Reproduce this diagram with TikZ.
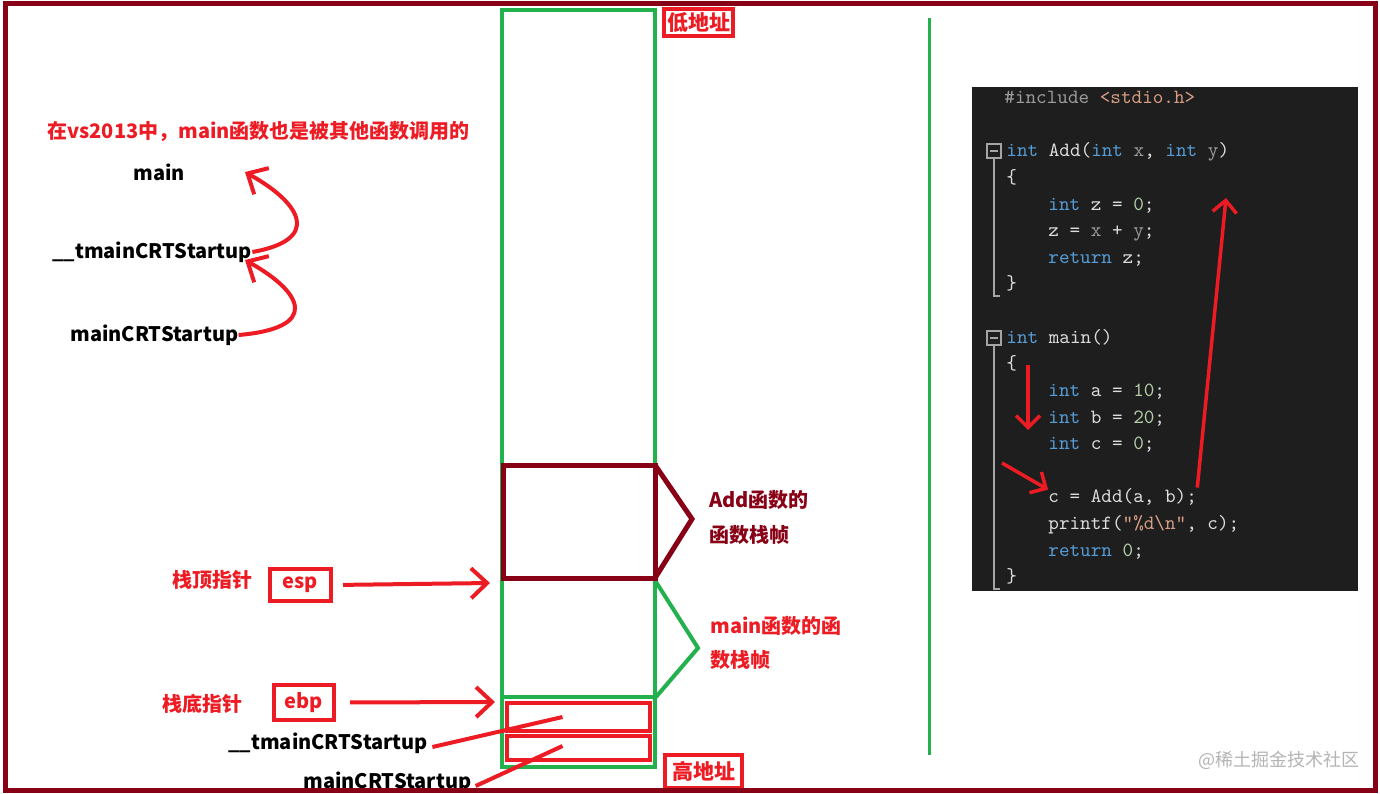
\documentclass[tikz,border=0pt]{standalone}
\usepackage{fontspec}
\newfontfamily\cjk{Noto Sans CJK SC}
\usetikzlibrary{arrows.meta,positioning}

\definecolor{paintgreen}{HTML}{22B14C}
\definecolor{paintred}{HTML}{ED1C24}
\definecolor{paintdark}{HTML}{880015}
\definecolor{codebg}{HTML}{1E1E1E}
\definecolor{kwblue}{HTML}{569CD6}
\definecolor{plaintext}{HTML}{DCDCDC}
\definecolor{numgreen}{HTML}{B5CEA8}
\definecolor{strtan}{HTML}{D69D85}
\definecolor{paramgray}{HTML}{9B9B9B}
\definecolor{foldgray}{HTML}{A5A5A5}
\definecolor{wmgray}{HTML}{B4B4B4}

\begin{document}
\begin{tikzpicture}[
  x=0.5pt, y=-0.5pt,
  lbl/.style={font=\cjk\bfseries\fontsize{10}{12}\selectfont, inner sep=0pt, anchor=west},
  regbox/.style={draw=paintred, line width=2pt, text=paintred, inner sep=0pt,
    font=\cjk\bfseries\fontsize{10}{12}\selectfont},
  addrbox/.style={regbox, font=\cjk\bfseries\fontsize{10.5}{12}\selectfont},
  slotbox/.style={draw=paintred, line width=2pt, minimum width=71.5pt, inner sep=0pt},
  stackline/.style={paintgreen, line width=2pt},
  redarrow/.style={paintred, line width=2pt, -{Straight Barb[length=8pt, width=15pt]}},
  codearrow/.style={paintred, line width=1.75pt, -{Straight Barb[length=6pt, width=12pt]}},
  redline/.style={paintred, line width=2pt},
  codeline/.style={font=\ttfamily\fontsize{10.1}{12}\selectfont, inner sep=0pt,
    anchor=base west, text=plaintext},
  fold/.style={foldgray, line width=0.75pt}
]
\useasboundingbox (0,0) rectangle (1380,793);
\fill[white] (0,0) rectangle (1380,793);

% stack
\draw[stackline] (502,10) rectangle (655,767);
\draw[stackline] (502,697) -- (655,697);
\draw[paintdark, line width=2.5pt] (503,465) rectangle (655,578);
\draw[paintdark, line width=2.5pt] (655,465) -- (692,519) -- (655,578);
\draw[stackline] (656,582) -- (698,648) -- (656,697);
\node[slotbox, minimum height=14pt] (slot1) at (578.5,717) {};
\node[slotbox, minimum height=12pt] (slot2) at (578.5,748) {};

\node[addrbox, minimum width=34.5pt, minimum height=13.5pt] (lowaddr) at (698.5,22.5) {低地址};
\node[addrbox, minimum width=38.5pt, minimum height=16.5pt] (highaddr) at (703.5,771.5) {高地址};

\node[lbl, paintdark] (addtxt1) at (709,500) {Add函数的};
\node[lbl, paintdark] (addtxt2) at (709,535) {函数栈帧};
\node[lbl, paintred] (maintxt1) at (710,626) {main函数的函};
\node[lbl, paintred] (maintxt2) at (710,660) {数栈帧};

% call chain
\node[lbl, paintred] (title) at (47,131) {在vs2013中，main函数也是被其他函数调用的};
\node[lbl, anchor=center] (fmain) at (159,172) {main};
\node[lbl] (ftmain) at (52,252) {\_\_tmainCRTStartup};
\node[lbl] (fcrt) at (70,335) {mainCRTStartup};
\coordinate (maintip) at (245,172);
\coordinate (tmaintip) at (245,260);
\draw[redarrow] (ftmain.east) .. controls (320,240) and (304,205) .. (maintip);
\draw[redarrow] (fcrt.east) .. controls (320,328) and (304,293) .. (tmaintip);

% pointers
\node[lbl, paintred] (topname) at (172,580) {栈顶指针};
\node[regbox, minimum width=30.5pt, minimum height=16pt] (esp) at (300.5,585) {esp};
\node[lbl, paintred] (basename) at (162,704) {栈底指针};
\node[regbox, minimum width=30pt, minimum height=17.5pt] (ebp) at (304,702.5) {ebp};
\coordinate (esptip) at (490,583);
\coordinate (ebptip) at (495,702);
\draw[redarrow, shorten <=5pt] (esp.east) -- (esptip);
\draw[redarrow, shorten <=7pt] (ebp.east) -- (ebptip);

\node[lbl] (ftmain2) at (228,743) {\_\_tmainCRTStartup};
\node[lbl] (fcrt2) at (303,782) {mainCRTStartup};
\draw[redline] ([xshift=2pt,yshift=-2pt]ftmain2.east) -- ([xshift=-8pt]slot1.center);
\draw[redline] ([xshift=2pt,yshift=-2pt]fcrt2.east) -- ([xshift=-8pt,yshift=1pt]slot2.center);

% divider
\draw[paintgreen, line width=1.5pt] (929,18) -- (929,755);

% code
\fill[codebg] (972,87) rectangle (1358,591);
\draw[fold] (987,144) rectangle (1001,158);
\draw[fold] (990,151) -- (998,151);
\draw[fold] (994,158) -- (994,296) -- (1000,296);
\draw[fold] (987,331) rectangle (1001,345);
\draw[fold] (990,338) -- (998,338);
\draw[fold] (994,345) -- (994,589) -- (1000,589);

\node[codeline] (c1) at (1004,103) {\textcolor{paramgray}{\#include} \textcolor{strtan}{<stdio.h>}};
\node[codeline] (c2) at (1006,156) {\textcolor{kwblue}{int} Add(\textcolor{kwblue}{int} \textcolor{paramgray}{x}, \textcolor{kwblue}{int} \textcolor{paramgray}{y})};
\node[codeline] (c3) at (1006,183) {\{};
\node[codeline] (c4) at (1048,210) {\textcolor{kwblue}{int} z = \textcolor{numgreen}{0};};
\node[codeline] (c5) at (1048,236) {z = \textcolor{paramgray}{x} + \textcolor{paramgray}{y};};
\node[codeline] (c6) at (1048,263) {\textcolor{kwblue}{return} z;};
\node[codeline] (c7) at (1006,289) {\}};
\node[codeline] (c8) at (1006,343) {\textcolor{kwblue}{int} main()};
\node[codeline] (c9) at (1006,369) {\{};
\node[codeline] (c10) at (1048,396) {\textcolor{kwblue}{int} a = \textcolor{numgreen}{10};};
\node[codeline] (c11) at (1048,423) {\textcolor{kwblue}{int} b = \textcolor{numgreen}{20};};
\node[codeline] (c12) at (1048,449) {\textcolor{kwblue}{int} c = \textcolor{numgreen}{0};};
\node[codeline] (c13) at (1048,502) {c = Add(a, b);};
\node[codeline] (c14) at (1048,529) {printf(\textcolor{strtan}{"\%d\textbackslash n"}, c);};
\node[codeline] (c15) at (1048,556) {\textcolor{kwblue}{return} \textcolor{numgreen}{0};};
\node[codeline] (c16) at (1006,582) {\}};

\coordinate (seqtop) at (1028,365);
\coordinate (seqbot) at (1028,430);
\coordinate (callfrom) at (1002,463);
\coordinate (addtip) at (1226,198);
\draw[codearrow] (seqtop) -- (seqbot);
\draw[codearrow] (callfrom) -- ([yshift=-1pt]c13.north west);
\draw[codearrow] (c13.north east) -- (addtip);

\node[font=\cjk\fontsize{9}{10}\selectfont, text=wmgray, anchor=west, inner sep=0pt] (watermark) at (1198,760) {@稀土掘金技术社区};

% frame
\draw[paintdark, line width=2.5pt] (5,3.5) rectangle (1375,790.5);
\end{tikzpicture}
\end{document}
